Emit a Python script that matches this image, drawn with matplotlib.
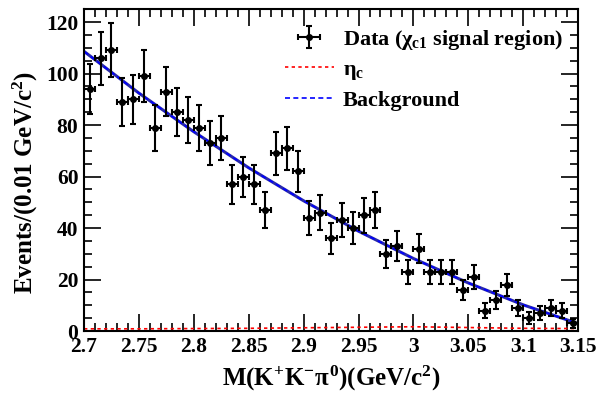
import numpy as np
import matplotlib
matplotlib.use("Agg")
import matplotlib.pyplot as plt
from matplotlib.ticker import MultipleLocator

plt.rcParams["font.family"] = "Liberation Serif"
plt.rcParams["font.weight"] = "bold"
plt.rcParams["axes.labelweight"] = "bold"
plt.rcParams["mathtext.fontset"] = "custom"
plt.rcParams["mathtext.rm"] = "Liberation Serif:bold"
plt.rcParams["mathtext.it"] = "Liberation Serif:bold"
plt.rcParams["mathtext.bf"] = "Liberation Serif:bold"

# Data: bin centers (0.01 GeV bins) and counts
bin_edges = np.arange(2.70, 3.1501, 0.01)
mass = (bin_edges[:-1] + bin_edges[1:]) / 2
counts = [94, 106, 109, 89, 90, 99, 79, 93, 85, 82,
          79, 73, 75, 57, 60, 57, 47, 69, 71, 62,
          44, 46, 36, 43, 40, 45, 47, 30, 33, 23,
          32, 23, 23, 23, 16, 21, 8, 12, 18, 9,
          5, 7, 9, 8, 3]

# Background fit curve and eta_c component
curve_x = [2.70, 2.75, 2.80, 2.85, 2.90, 2.95, 3.00, 3.05, 3.10, 3.15]
bkg_y = [108.6, 92.4, 77.4, 63.4, 50.6, 38.8, 28.2, 18.7, 10.2, 2.9]
etac_y = [0.9, 0.9, 1.0, 1.1, 1.3, 1.5, 1.7, 1.4, 1.1, 1.0]

fig = plt.figure(figsize=(5.96, 3.98), dpi=100)
ax = fig.add_axes([0.141, 0.168, 0.829, 0.809])

ax.plot(curve_x, bkg_y, color="#2a2aa8", lw=2.2, solid_capstyle="butt")
ax.plot(curve_x, bkg_y, color="blue", lw=1.2, ls=(0, (3, 2)), label="Background")
ax.plot(curve_x, etac_y, color="red", lw=1.2, ls=(0, (2, 2)), label=r"$\eta_{c}$")

ax.errorbar(mass, counts, yerr=np.sqrt(counts), xerr=0.005, fmt="o",
            color="black", ms=4, lw=1.5, capsize=2.5, capthick=1.5,
            label=r"Data ($\chi_{c1}$ signal region)")

ax.set_xlim(2.70, 3.15)
ax.set_ylim(0, 125)
ax.xaxis.set_minor_locator(MultipleLocator(0.01))
ax.yaxis.set_major_locator(MultipleLocator(20))
ax.yaxis.set_minor_locator(MultipleLocator(5))
ax.set_xticks(np.arange(2.70, 3.1501, 0.05))
ax.set_xticklabels(["2.7", "2.75", "2.8", "2.85", "2.9", "2.95", "3", "3.05", "3.1", "3.15"])

ax.tick_params(which="both", direction="in", top=True, right=True, width=1.2,
               labelsize=15.5, pad=4)
ax.tick_params(which="major", length=12)
ax.tick_params(which="minor", length=6)
for s in ax.spines.values():
    s.set_linewidth(1.5)

ax.set_xlabel(r"M(K$^{+}$K$^{-}\pi^{0}$)(GeV/c$^{2}$)", fontsize=18, labelpad=5)
ax.set_ylabel(r"Events/(0.01 GeV/c$^{2}$)", fontsize=18)
ax.yaxis.set_label_coords(-0.09, 0.46)

handles, labels = ax.get_legend_handles_labels()
order = [labels.index(r"Data ($\chi_{c1}$ signal region)"), labels.index(r"$\eta_{c}$"),
         labels.index("Background")]
ax.legend([handles[i] for i in order], [labels[i] for i in order],
          loc="upper right", bbox_to_anchor=(1.0, 0.99), frameon=False,
          fontsize=16, handlelength=2.2, handletextpad=0.4, labelspacing=0.35,
          borderaxespad=0.3)

plt.savefig("out.png", dpi=100)
